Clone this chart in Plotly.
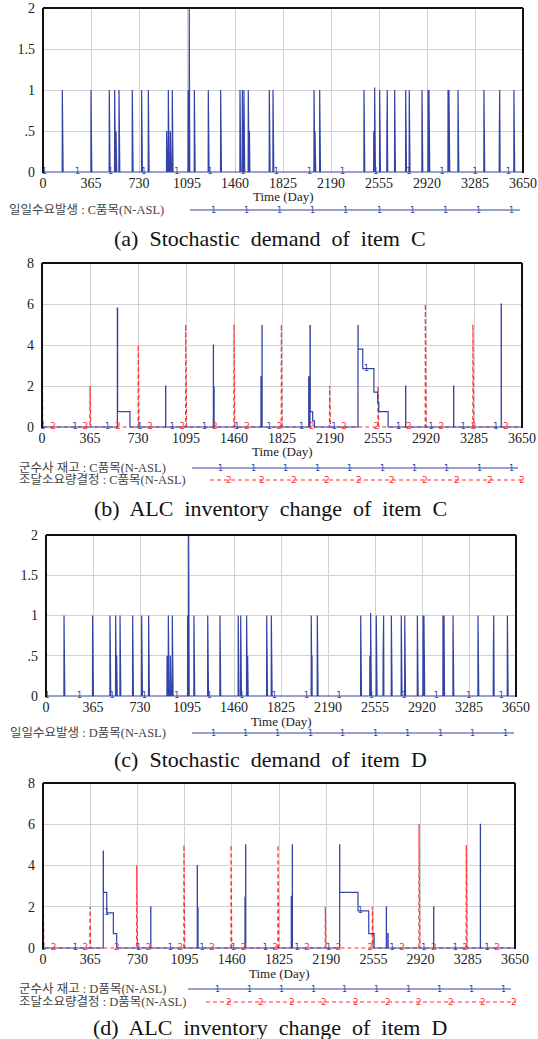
import numpy as np
import plotly.graph_objects as go

W, H = 538, 1039
T_END = 3650
x_tickvals = list(range(0, 3651, 365))
x_ticktext = [str(v) for v in x_tickvals]

# ---------------- data ----------------
# (a) daily demand of item C (day, units)
dem_c_days = [147, 365, 504, 545, 555, 578, 679, 750, 801, 940, 953, 968, 983, 1104, 1112, 1151,
              1257, 1351, 1498, 1516, 1528, 1561, 1570, 1721, 1749, 2061, 2068, 2104, 2441, 2515,
              2522, 2560, 2615, 2618, 2674, 2758, 2785, 2882, 2928, 2935, 3080, 3087, 3156, 3353,
              3470, 3473, 3581]
dem_c_vals = [1, 1, 1, 1, 0.5, 1, 1, 1, 1, 0.5, 1, 0.5, 1, 1, 2, 1,
              1, 1, 1, 1, 1, 1, 0.5, 1, 1, 1, 0.5, 1, 1, 0.5,
              1.03, 1, 0.5, 1, 1, 1, 1, 1, 1, 1, 1, 1, 1, 1,
              0.5, 1, 1]

# (c) daily demand of item D
dem_d_days = [140, 362, 497, 541, 549, 575, 673, 743, 797, 940, 950, 966, 981, 1100, 1108, 1149,
              1256, 1351, 1493, 1512, 1558, 1566, 1714, 1750, 2060, 2066, 2107, 2444, 2515, 2521,
              2565, 2618, 2622, 2682, 2759, 2786, 2884, 2928, 2935, 3083, 3091, 3161, 3355, 3474,
              3477, 3583]
dem_d_vals = [1, 1, 1, 1, 0.5, 1, 1, 1, 1, 0.5, 1, 0.5, 1, 1, 2, 1,
              1, 1, 1, 1, 1, 0.5, 1, 1, 1, 0.5, 1, 1, 0.5, 1.03,
              1, 0.5, 1, 1, 1, 1, 1, 1, 1, 1, 1, 1, 1, 0.5,
              1, 1]

# (b) ALC inventory of item C (step breakpoints: value holds until next day listed)
inv_c_days = [0, 573, 575, 669, 940, 941, 1303, 1304, 1308, 1309, 1665, 1666, 1673, 1674,
              2028, 2029, 2038, 2040, 2058, 2072, 2403, 2404, 2439, 2524, 2553, 2561, 2632,
              2765, 2766, 3130, 3131, 3492, 3493, 3650]
inv_c_vals = [0, 5.8, 0.75, 0, 2, 0, 4, 0, 1.95, 0, 2.45, 0, 4.95, 0,
              2.45, 0, 4.95, 0.75, 0.3, 0, 4.95, 3.8, 2.85, 1.7, 1.2, 0.75, 0,
              2, 0, 2, 0, 6, 0, 0]
# (b) procurement requirement decision of item C (daily)
proc_c_days = [0, 365, 732, 1093, 1460, 1820, 2187, 2555, 2915, 2919, 3277, 3281]
proc_c_vals = [5.8, 2, 4, 5, 5, 5, 2, 2, 6, 2.9, 5, 2.8]

# (d) ALC inventory of item D
inv_d_days = [0, 466, 467, 493, 544, 570, 833, 834, 1193, 1194, 1198, 1199, 1562, 1563,
              1567, 1568, 1920, 1921, 1928, 1929, 2294, 2295, 2436, 2519, 2560, 2655, 2656,
              2667, 2669, 3021, 3022, 3382, 3383, 3650]
inv_d_vals = [0, 4.7, 2.7, 1.7, 0.7, 0, 2, 0, 4, 0, 1.95, 0, 2.45, 0,
              5, 0, 2.5, 0, 5, 0, 5, 2.7, 1.8, 0.7, 0, 2, 0,
              0.7, 0, 2, 0, 6, 0, 0]
# (d) procurement requirement decision of item D
proc_d_days = [0, 363, 725, 1090, 1454, 1817, 2183, 2547, 2908, 2912, 3273, 3277]
proc_d_vals = [4.7, 2, 4, 5, 5, 5, 2, 2, 6, 3, 5, 2.4]

demand_yticks = [0, 0.5, 1, 1.5, 2]
demand_ytext = ["0", ".5", "1", "1.5", "2"]
inv_yticks = [0, 2, 4, 6, 8]
inv_ytext = ["0", "2", "4", "6", "8"]

captions = ["(a)  Stochastic  demand  of  item  C",
            "(b)  ALC  inventory  change  of  item  C",
            "(c)  Stochastic  demand  of  item  D",
            "(d)  ALC  inventory  change  of  item  D"]
leg_demand_c = "일일수요발생 : C품목(N-ASL)"
leg_demand_d = "일일수요발생 : D품목(N-ASL)"
leg_inv_c = "군수사 재고 : C품목(N-ASL)"
leg_proc_c = "조달소요량결정 : C품목(N-ASL)"
leg_inv_d = "군수사 재고 : D품목(N-ASL)"
leg_proc_d = "조달소요량결정 : D품목(N-ASL)"

BLUE = "#3343a6"
RED = "#ff3030"
SERIF = "Liberation Serif, Times New Roman, serif"
LEGFONT = "Liberation Serif, Noto Sans CJK KR"


def daily(days, vals):
    arr = np.zeros(T_END + 1)
    arr[np.array(days)] = vals
    return arr


def step_at(days, vals, q):
    days = np.array(days)
    vals = np.array(vals)
    idx = np.searchsorted(days, q, side="right") - 1
    return vals[idx]


def px(x):
    return x / W


def py(y):
    return 1 - y / H


def axid(n):
    return "" if n == 1 else str(n)


# panel geometry in pixels: left, right, top, bottom
panels = [
    dict(l=43, r=523, t=8, b=173, ymax=2),
    dict(l=42, r=522, t=263, b=428, ymax=8),
    dict(l=46, r=516, t=535, b=697, ymax=2),
    dict(l=43, r=515, t=783, b=949, ymax=8),
]

fig = go.Figure()
days_all = np.arange(T_END + 1)


def add_label_trace(n, xs, ys, txt, color, size):
    fig.add_trace(go.Scatter(x=xs, y=ys, mode="text", text=[txt] * len(xs),
                             textfont=dict(size=size, color=color, family="DejaVu Sans"),
                             textposition="middle center", cliponaxis=False,
                             xaxis="x" + axid(n), yaxis="y" + axid(n), hoverinfo="skip"))


# (a)
arr = daily(dem_c_days, dem_c_vals)
fig.add_trace(go.Scatter(x=days_all, y=arr, mode="lines", line=dict(color=BLUE, width=1.2),
                         xaxis="x", yaxis="y"))
lab = np.arange(10, T_END, 252)
add_label_trace(1, lab, arr[lab], "1", BLUE, 8)

# (b)
arr = daily(proc_c_days, proc_c_vals)
fig.add_trace(go.Scatter(x=days_all, y=arr, mode="lines",
                         line=dict(color=RED, width=1.2, dash="4px,3px"), xaxis="x2", yaxis="y2"))
fig.add_trace(go.Scatter(x=inv_c_days, y=inv_c_vals, mode="lines", line_shape="hv",
                         line=dict(color=BLUE, width=1.2), xaxis="x2", yaxis="y2"))
lab = np.arange(6, T_END, 246)
add_label_trace(2, lab, step_at(inv_c_days, inv_c_vals, lab), "1", BLUE, 8)
lab = np.arange(84, T_END, 246)
add_label_trace(2, lab, arr[lab], "2", RED, 9)

# (c)
arr = daily(dem_d_days, dem_d_vals)
fig.add_trace(go.Scatter(x=days_all, y=arr, mode="lines", line=dict(color=BLUE, width=1.2),
                         xaxis="x3", yaxis="y3"))
lab = np.arange(8, T_END, 252)
add_label_trace(3, lab, arr[lab], "1", BLUE, 8)

# (d)
arr = daily(proc_d_days, proc_d_vals)
fig.add_trace(go.Scatter(x=days_all, y=arr, mode="lines",
                         line=dict(color=RED, width=1.2, dash="4px,3px"), xaxis="x4", yaxis="y4"))
fig.add_trace(go.Scatter(x=inv_d_days, y=inv_d_vals, mode="lines", line_shape="hv",
                         line=dict(color=BLUE, width=1.2), xaxis="x4", yaxis="y4"))
lab = np.arange(4, T_END, 245)
add_label_trace(4, lab, step_at(inv_d_days, inv_d_vals, lab), "1", BLUE, 8)
lab = np.arange(82, T_END, 245)
add_label_trace(4, lab, arr[lab], "2", RED, 9)

layout = dict(width=W, height=H, margin=dict(l=0, r=0, t=0, b=0, pad=0, autoexpand=False),
              paper_bgcolor="white", plot_bgcolor="white", showlegend=False,
              template="none")
shapes = []
annotations = []

for i, p in enumerate(panels):
    n = i + 1
    a = axid(n)
    ymax = p["ymax"]
    pad = ymax / (p["b"] - p["t"]) * 1.0
    layout["xaxis" + a] = dict(domain=[px(p["l"]), px(p["r"])], anchor="y" + a,
                               range=[0, T_END], tickvals=x_tickvals, ticktext=x_ticktext,
                               showgrid=True, gridcolor="#d2d2d2", gridwidth=1,
                               showline=False, zeroline=False, ticks="", automargin=False,
                               tickfont=dict(family=SERIF, size=14, color="#222"),
                               layer="below traces", fixedrange=True)
    layout["yaxis" + a] = dict(domain=[py(p["b"]), py(p["t"])], anchor="x" + a,
                               range=[-pad, ymax],
                               tickvals=demand_yticks if ymax == 2 else inv_yticks,
                               ticktext=demand_ytext if ymax == 2 else inv_ytext,
                               showgrid=True, gridcolor="#d2d2d2", gridwidth=1,
                               showline=False, zeroline=False, ticks="", ticklabelstandoff=7,
                               automargin=False,
                               tickfont=dict(family=SERIF, size=14, color="#222"),
                               layer="below traces", fixedrange=True)
    # frame: top, left, right
    for (x0, y0, x1, y1) in [(0, 1, 1, 1), (0, 0, 0, 1), (1, 0, 1, 1)]:
        shapes.append(dict(type="line", xref="x" + a + " domain", yref="y" + a + " domain",
                           x0=x0, x1=x1, y0=y0, y1=y1, line=dict(color="#111", width=2),
                           layer="above"))
    # axis title
    annotations.append(dict(text="Time (Day)", xref="paper", yref="paper",
                            x=px((p["l"] + p["r"]) / 2), y=py(p["b"] + 24),
                            showarrow=False, xanchor="center", yanchor="middle",
                            font=dict(family=SERIF, size=13, color="#222")))

# captions
cap_y = [238, 508, 759, 1027]
for c, yy in zip(captions, cap_y):
    annotations.append(dict(text=c, xref="paper", yref="paper", x=px(270), y=py(yy),
                            showarrow=False, xanchor="center", yanchor="middle",
                            font=dict(family=SERIF, size=22, color="#111")))

# legends: (text, text_x, y, line_x0, line_x1, mark_x0, mark_step, mark, color, dashed)
legends = [
    (leg_demand_c, 7, 210, 190, 520, 213, 33.2, "1", BLUE, False),
    (leg_inv_c, 17, 468, 192, 518, 220.7, 32.3, "1", BLUE, False),
    (leg_proc_c, 17, 480, 210, 525, 229, 32.6, "2", RED, True),
    (leg_demand_d, 8, 733, 192, 514, 213, 32.45, "1", BLUE, False),
    (leg_inv_d, 17, 989, 188, 511, 218, 31.7, "1", BLUE, False),
    (leg_proc_d, 17, 1002, 206, 516, 229, 31.7, "2", RED, True),
]
for txt, tx, yy, lx0, lx1, mx0, mstep, mk, col, dashed in legends:
    annotations.append(dict(text=txt, xref="paper", yref="paper", x=px(tx), y=py(yy),
                            showarrow=False, xanchor="left", yanchor="middle",
                            font=dict(family=LEGFONT, size=12.5, color="#444")))
    shapes.append(dict(type="line", xref="paper", yref="paper", x0=px(lx0), x1=px(lx1),
                       y0=py(yy), y1=py(yy),
                       line=dict(color=col, width=1.2, dash="4px,3px" if dashed else "solid")))
    for k in range(10):
        annotations.append(dict(text=mk, xref="paper", yref="paper", x=px(mx0 + k * mstep),
                                y=py(yy), showarrow=False, xanchor="center", yanchor="middle",
                                font=dict(family="DejaVu Sans", size=8 if mk == "1" else 9,
                                          color=col)))

layout["shapes"] = shapes
layout["annotations"] = annotations
fig.update_layout(**layout)
fig.write_html("out.html", config={"displayModeBar": False},
               post_script="document.body.style.margin='0';document.body.style.overflow='hidden';")
